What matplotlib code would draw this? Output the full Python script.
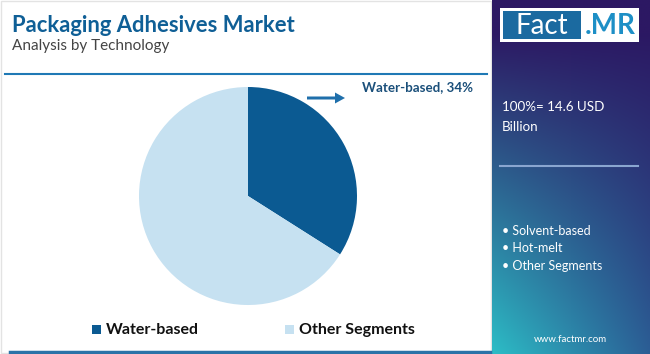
import numpy as np
import matplotlib.pyplot as plt
from matplotlib.patches import Rectangle, FancyArrow

segments = ['Water-based', 'Other Segments']
shares = [34, 66]
colors = ['#0b5a92', '#c6e1f1']
side_items = ['Solvent-based', 'Hot-melt', 'Other Segments']
total_text = '100%= 14.6 USD\nBillion'

plt.rcParams['font.family'] = ['Lato', 'DejaVu Sans']

W, H = 650, 354
fig = plt.figure(figsize=(6.5, 3.54), dpi=100)
fig.patch.set_facecolor('white')

# background layer in pixel coords
bg = fig.add_axes([0, 0, 1, 1])
bg.set_xlim(0, W)
bg.set_ylim(H, 0)
bg.axis('off')

# outer frame
bg.add_patch(Rectangle((1, 1), 490, 352, fill=False, ec='#e3e3e3', lw=1))

# right gradient panel
yy, xx = np.mgrid[0:1:200j, 0:1:100j]
top = np.array([0x2c, 0x18, 0x63]) / 255
bl = np.array([0x2d, 0xbd, 0xc6]) / 255
br = np.array([0x2b, 0x5e, 0x95]) / 255
t = np.clip(yy * 1.1 - 0.1, 0, 1)[..., None]
s = xx[..., None]
bottom = bl * (1 - s) + br * s
img = top * (1 - t) + bottom * t
bg.imshow(img, extent=[492, 650, 354, 0], aspect='auto', zorder=1)

# logo
bg.add_patch(Rectangle((500, 8), 139, 34, fc='white', ec='none', zorder=2))
bg.add_patch(Rectangle((503, 11), 78, 28, fc='#1b6aa0', ec='none', zorder=3))
bg.text(542, 26, 'Fact', color='white', fontsize=20, ha='center', va='center', zorder=4)
bg.text(610, 26, '.MR', color='#1d8fc6', fontsize=20, fontweight='bold',
        ha='center', va='center', zorder=4)

bg.text(502, 117, total_text, color='white', fontsize=9.6, va='center',
        linespacing=1.75, zorder=4)
bg.plot([500, 638], [166, 166], color='#8aa6d0', lw=1.5, zorder=4)
for i, item in enumerate(side_items):
    bg.text(502, 231 + i * 17.5, '\u2022 ' + item, color='white', fontsize=9,
            va='center', zorder=4)
bg.text(570, 339, 'www.factmr.com', color='white', fontsize=7,
        ha='center', va='center', zorder=4)

# titles
bg.text(12, 25, 'Packaging Adhesives Market', color='#0f5f96', fontsize=15.8,
        fontweight='bold', va='center')
bg.text(12, 46, 'Analysis by Technology', color='#444444', fontsize=11, va='center')
bg.plot([5, 487], [74, 74], color='#1f79b5', lw=1.5)
bg.plot([10, 490], [352, 352], color='#2a73a8', lw=2.5)

# pie
ax = fig.add_axes([139 / W, 1 - 305 / H, 218 / W, 218 / H])
ax.pie(shares, colors=colors, startangle=90, counterclock=False, radius=1)
ax.set_xlim(-1, 1)
ax.set_ylim(-1, 1)
ax.set_aspect('auto')
ax.axis('off')

# annotation
bg.add_patch(FancyArrow(307, 98, 28, 0, width=3, head_width=11, head_length=10,
                        fc='#1f6fab', ec='none', length_includes_head=False))
bg.text(362, 87, f'{segments[0]}, {shares[0]}%', color='#1a4f7a', fontsize=9.6,
        fontweight='bold', va='center')

# legend
lx = [95, 288]
for x, lab, c in zip(lx, segments, colors):
    bg.add_patch(Rectangle((x - 3, 325), 9, 9, fc=c, ec='none'))
    bg.text(x + 11, 330, lab, color='#111111', fontsize=11.5, fontweight='bold',
            va='center')

fig.savefig('out.png', dpi=100)
